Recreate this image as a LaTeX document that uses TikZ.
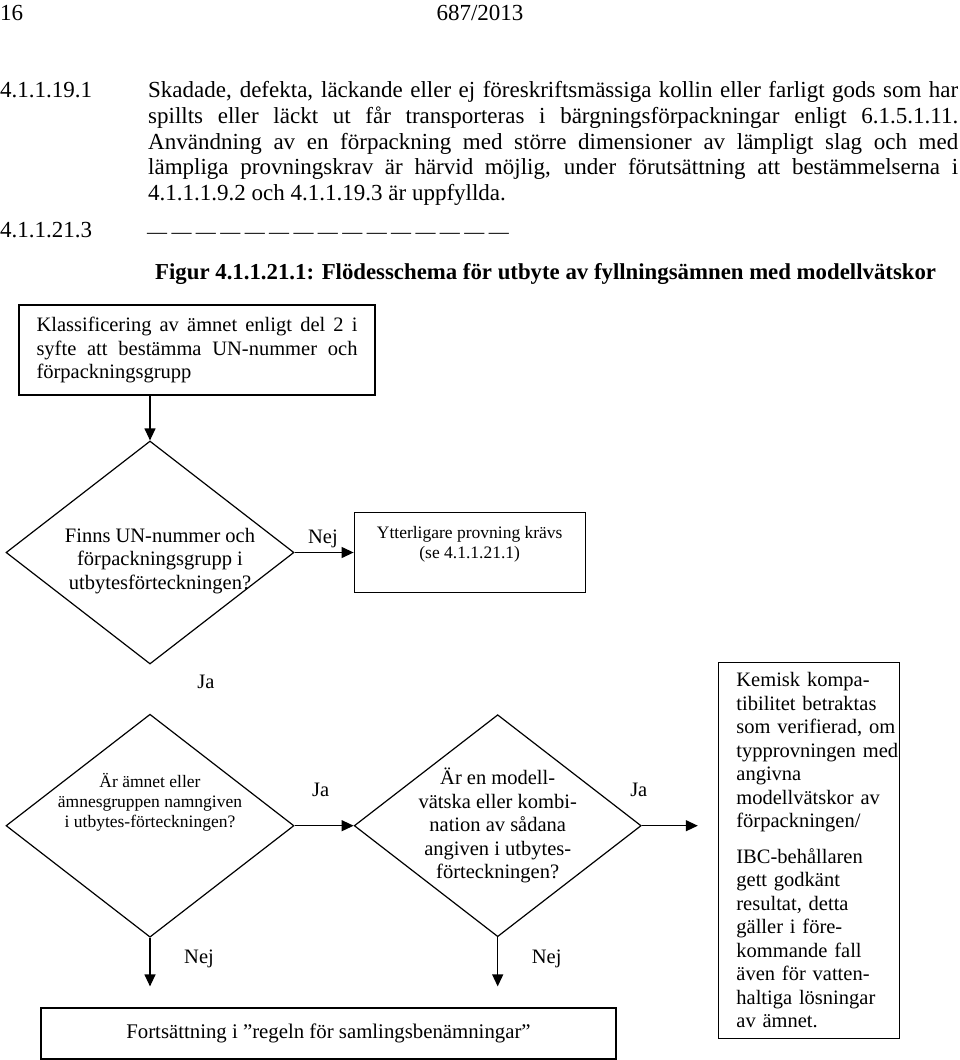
\documentclass[tikz,border=0pt]{standalone}
\usepackage{fontspec}
\setmainfont{Liberation Serif}
\usetikzlibrary{arrows.meta,positioning,shapes.geometric}
\tolerance=10000
\hyphenpenalty=10000
\newcommand{\dashgap}{\kern4.4pt}
\tikzset{
  pagetext/.style={font=\fontsize{23}{25.6}\selectfont,inner sep=0pt},
  rulebox/.style={draw,line width=1.2pt,font=\fontsize{20.5}{23.5}\selectfont},
  query/.style={diamond,draw,line width=1.2pt,inner sep=0pt,
    minimum width=288pt,minimum height=223pt},
  asktext/.style={align=center,inner sep=0pt,font=\fontsize{20.5}{23.5}\selectfont},
  link/.style={-{Triangle[length=12pt,width=11pt]},line width=1.2pt},
  answer/.style={anchor=base,inner sep=0pt,font=\fontsize{20.5}{24}\selectfont}
}
\begin{document}
\begin{tikzpicture}[x=1pt,y=-1pt]
  \useasboundingbox (0,0) rectangle (960,1060);
  % page head and text
  \node[pagetext,anchor=base west] (sida) at (0,20) {16};
  \node[pagetext,anchor=base] (nummer) at (480,20) {687/2013};
  \node[pagetext,anchor=base west] (p19) at (0,97.5) {4.1.1.19.1};
  \node[pagetext,anchor=north west,text width=810pt,align=justify] (p19text) at (148,81.6)
    {Skadade, defekta, läckande eller ej föreskriftsmässiga kollin eller farligt gods som har\linebreak
     spillts eller läckt ut får transporteras i bärgningsförpackningar enligt 6.1.5.1.11.\linebreak
     Användning av en förpackning med större dimensioner av lämpligt slag och med\linebreak
     lämpliga provningskrav är härvid möjlig, under förutsättning att bestämmelserna i\linebreak
     4.1.1.1.9.2 och 4.1.1.19.3 är uppfyllda.};
  \node[pagetext,anchor=base west] (p21) at (0,237) {4.1.1.21.3};
  \node[pagetext,anchor=base west,font=\fontsize{20}{24}\selectfont] (streck) at (147,238)
    {—\dashgap—\dashgap—\dashgap—\dashgap—\dashgap—\dashgap—\dashgap—\dashgap—\dashgap—\dashgap—\dashgap—\dashgap—\dashgap—\dashgap—};
  \node[pagetext,anchor=base west,font=\fontsize{22.8}{25}\selectfont\bfseries] (figur) at (155,279)
    {Figur 4.1.1.21.1: Flödesschema för utbyte av fyllningsämnen med modellvätskor};
  % flow chart
  \node[rulebox,minimum width=356pt,minimum height=90pt,text width=321pt,
    inner xsep=17.5pt,align=justify] (klass) at (197,350)
    {Klassificering av ämnet enligt del 2 i\linebreak syfte att bestämma UN-nummer och\linebreak förpackningsgrupp};
  \node[query] (finns) at (150,552.5) {};
  \node[asktext] (finns-q) at ([xshift=10pt,yshift=-8.5pt]finns.center)
    {Finns UN-nummer och\\förpackningsgrupp i\\utbytesförteckningen?};
  \node[rulebox,right=59pt of finns,minimum width=231pt,minimum height=80pt,align=center,
    font=\fontsize{17.5}{20}\selectfont] (ytter)
    {Ytterligare provning krävs\\(se 4.1.1.21.1)\\\mbox{}};
  \node[query,below=49pt of finns] (amne) {};
  \node[asktext,font=\fontsize{17.5}{20}\selectfont] (amne-q) at ([yshift=23pt]amne.center)
    {Är ämnet eller\\ämnesgruppen namngiven\\i utbytes-förteckningen?};
  \node[query,right=59pt of amne,minimum width=287pt,minimum height=222pt] (modell) {};
  \node[asktext] (modell-q) at (modell.center)
    {Är en modell-\\vätska eller kombi-\\nation av sådana\\angiven i utbytes-\\förteckningen?};
  \node[rulebox,right=76pt of modell,yshift=-24.5pt,minimum width=181pt,minimum height=376pt,
    text width=145pt,inner xsep=18pt,inner ysep=2pt,align=left] (kemisk)
    {Kemisk kompa-\\tibilitet betraktas\\\mbox{som verifierad, om}\\\mbox{typprovningen med}\\angivna\\
     modellvätskor av\\förpackningen/\\[12pt]IBC-behållaren\\gett godkänt\\resultat, detta\\
     gäller i före-\\kommande fall\\även för vatten-\\haltiga lösningar\\av ämnet.};
  \node[rulebox,minimum width=575pt,minimum height=51pt,font=\fontsize{20.8}{24}\selectfont]
    (fortsatt) at (328.5,1033.5) {Fortsättning i ”regeln för samlingsbenämningar”};
  \node[answer] (ja-finns) at ([xshift=56pt,yshift=-24pt]finns.south) {Ja};
  \draw[link] (klass.south -| finns.north) -- (finns.north);
  \draw[link] (finns.east) -- node[answer,pos=0.48,yshift=9.5pt]{Nej} (finns.east -| ytter.west);
  \draw[link] (amne.east) -- node[answer,pos=0.44,yshift=29.5pt]{Ja} (modell.west);
  \draw[link,shorten >=20pt] (modell.east) -- node[answer,pos=0,xshift=-3pt,yshift=29.5pt]{Ja}
    (modell.east -| kemisk.west);
  \draw[link,shorten >=21pt] (amne.south) -- node[answer,pos=0.37,xshift=49pt]{Nej}
    (amne.south |- fortsatt.north);
  \draw[link,shorten >=21pt] (modell.south) -- node[answer,pos=0.37,xshift=49pt]{Nej}
    (modell.south |- fortsatt.north);
\end{tikzpicture}
\end{document}
